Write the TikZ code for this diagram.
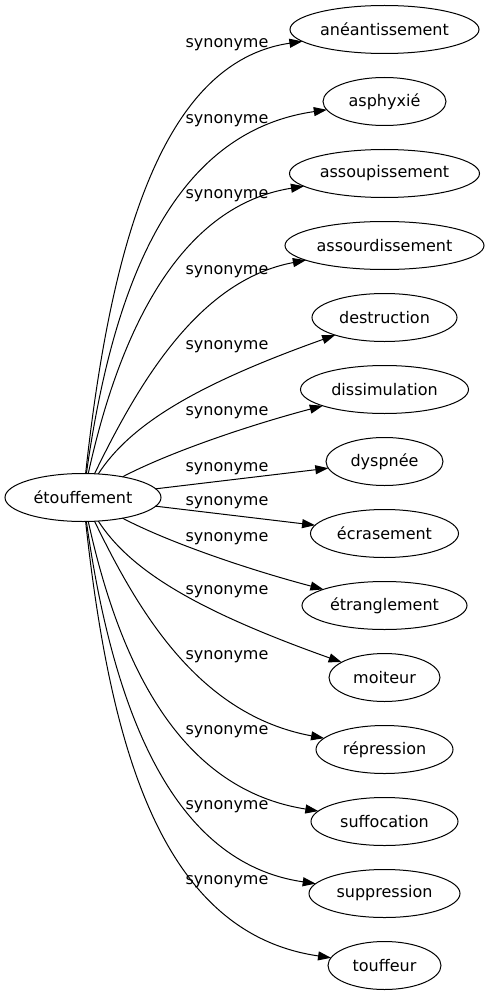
\documentclass[tikz,border=0pt]{standalone}
\usepackage{fontspec}
\setmainfont{DejaVu Sans}
\usetikzlibrary{positioning,shapes.geometric,arrows.meta}

\begin{document}
\begin{tikzpicture}[x=1pt, y=-1pt, node distance=24pt,
    word/.style={draw, ellipse, line width=1pt, inner sep=0pt, outer sep=0pt,
      minimum height=48pt, font=\fontsize{16}{19}\selectfont},
    rel/.style={inner sep=0pt, font=\fontsize{16}{19}\selectfont},
    syn/.style={line width=1pt, -{Triangle[length=13pt, width=9pt]}}]
      \useasboundingbox (0,0) rectangle (489,995);

        \node [word, minimum width=156pt] (w) at (83,497.5) {étouffement};
        \node [word, minimum width=189pt] (s1) at (384.5,29.5) {anéantissement};
        \node [word, minimum width=123pt, below=of s1] (s2) {asphyxié};
        \node [word, minimum width=190pt, below=of s2] (s3) {assoupissement};
        \node [word, minimum width=199pt, below=of s3] (s4) {assourdissement};
        \node [word, minimum width=145pt, below=of s4] (s5) {destruction};
        \node [word, minimum width=168pt, below=of s5] (s6) {dissimulation};
        \node [word, minimum width=117pt, below=of s6] (s7) {dyspnée};
        \node [word, minimum width=148pt, below=of s7] (s8) {écrasement};
        \node [word, minimum width=165pt, below=of s8] (s9) {étranglement};
        \node [word, minimum width=111pt, below=of s9] (s10) {moiteur};
        \node [word, minimum width=137pt, below=of s10] (s11) {répression};
        \node [word, minimum width=147pt, below=of s11] (s12) {suffocation};
        \node [word, minimum width=151pt, below=of s12] (s13) {suppression};
        \node [word, minimum width=113pt, below=of s13] (s14) {touffeur};

        \node [rel] (l1) at (227,45) {synonyme};
        \node [rel] (l2) at (227,121) {synonyme};
        \node [rel] (l3) at (227,196) {synonyme};
        \node [rel] (l4) at (227,272) {synonyme};
        \node [rel] (l5) at (227,347) {synonyme};
        \node [rel] (l6) at (227,413) {synonyme};
        \node [rel] (l7) at (227,469) {synonyme};
        \node [rel] (l8) at (227,503) {synonyme};
        \node [rel] (l9) at (227,539) {synonyme};
        \node [rel] (l10) at (227,592) {synonyme};
        \node [rel] (l11) at (227,657) {synonyme};
        \node [rel] (l12) at (227,732) {synonyme};
        \node [rel] (l13) at (227,807) {synonyme};
        \node [rel] (l14) at (227,882) {synonyme};

        \draw [syn] (w) .. controls (110,250) and (160,62) .. (s1);
        \draw [syn] (w) .. controls (113,285) and (172,132) .. (s2);
        \draw [syn] (w) .. controls (122,320) and (185,205) .. (s3);
        \draw [syn] (w) .. controls (140,380) and (200,280) .. (s4);
        \draw [syn] (w) .. controls (130,425) and (195,385) .. (s5);
        \draw [syn] (w) .. controls (170,452) and (250,425) .. (s6);
        \draw [syn] (w) -- (s7);
        \draw [syn] (w) -- (s8);
        \draw [syn] (w) .. controls (170,543) and (250,570) .. (s9);
        \draw [syn] (w) .. controls (130,570) and (195,610) .. (s10);
        \draw [syn] (w) .. controls (140,615) and (200,715) .. (s11);
        \draw [syn] (w) .. controls (122,675) and (185,790) .. (s12);
        \draw [syn] (w) .. controls (113,710) and (172,863) .. (s13);
        \draw [syn] (w) .. controls (110,745) and (160,933) .. (s14);
\end{tikzpicture}
\end{document}
